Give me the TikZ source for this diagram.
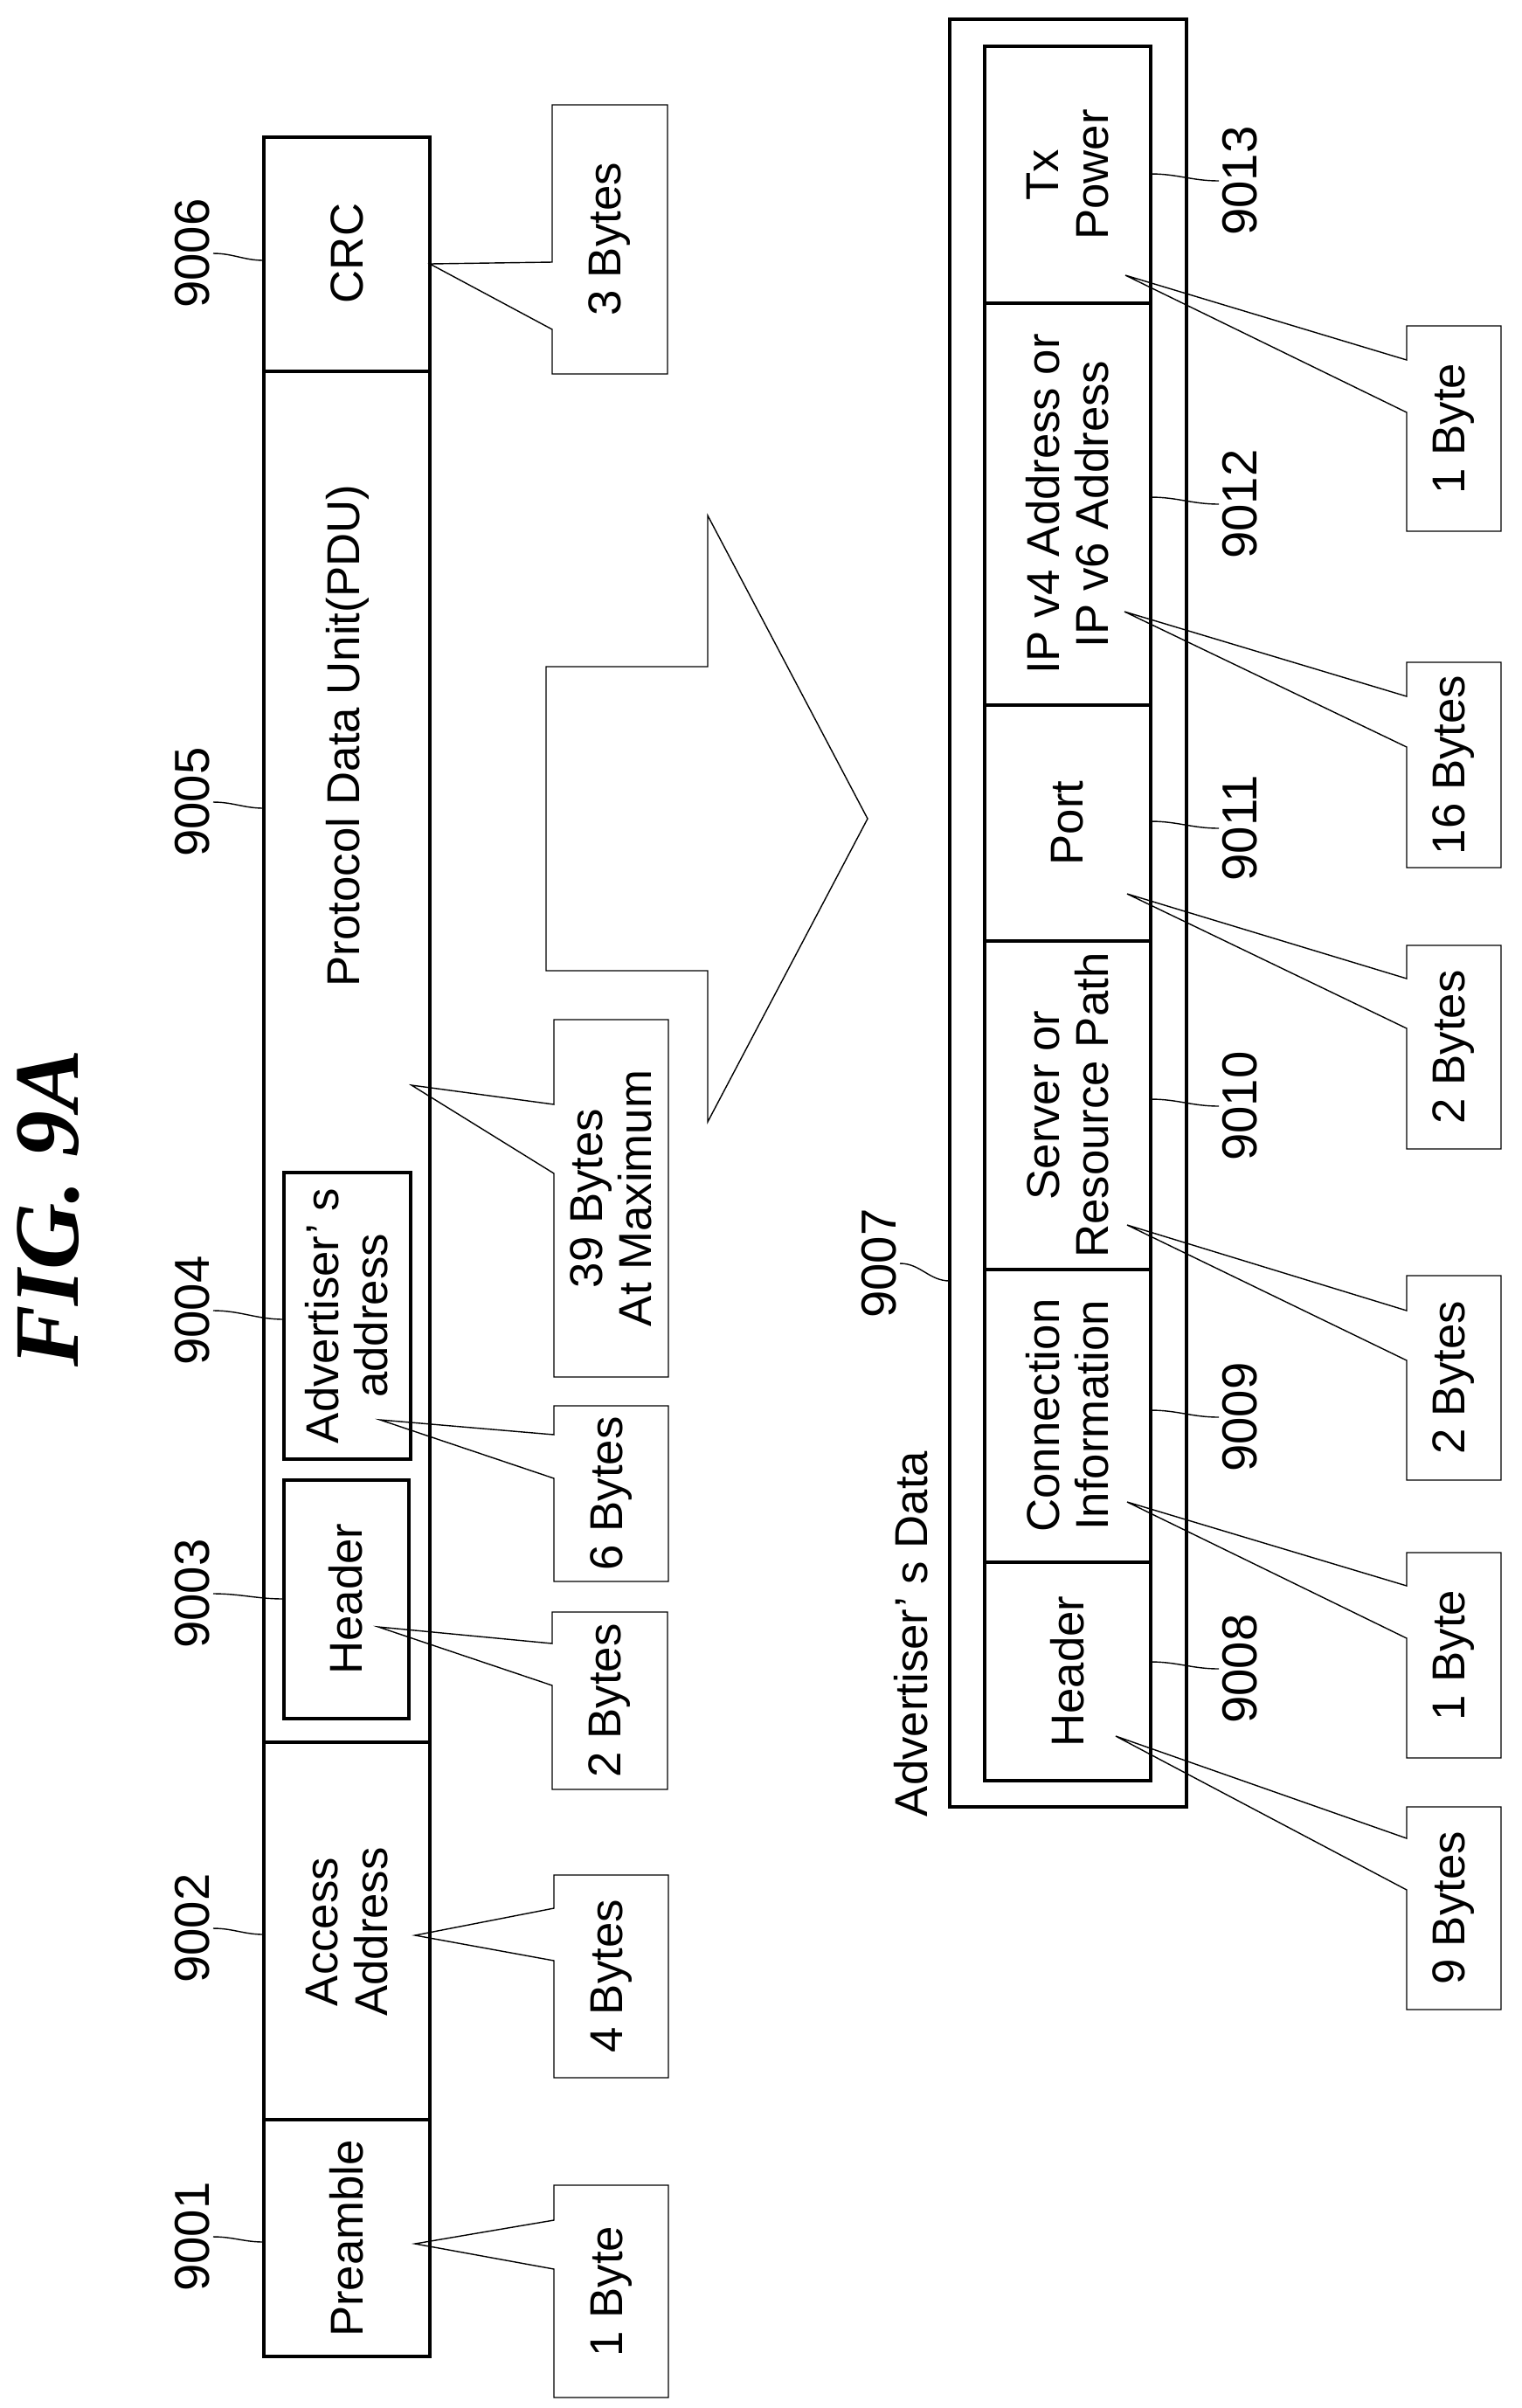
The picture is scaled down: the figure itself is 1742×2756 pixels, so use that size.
\documentclass[tikz,border=0pt]{standalone}
\usepackage{fontspec}
\setmainfont{Liberation Sans}
\newfontfamily\titlefont{Liberation Serif}
\usepackage{tikz}

% callout box: name, tip, left, right, top, gap top, gap bottom, bottom, text
\newcommand{\bytebox}[9]{%
  \draw[thin] (#3,#6) -- (#2) -- (#3,#7) -- (#3,#8) -- (#4,#8) -- (#4,#5) -- (#3,#5) -- cycle;
  \node[txt] (#1) at ({(#3+#4)/2},{(#5+#8)/2}) {#9};
}

\begin{document}
\begin{tikzpicture}[x=0.01cm, y=-0.01cm,
  txt/.style={rotate=90, align=center, inner sep=0pt, font=\fontsize{15}{16}\selectfont},
  ref/.style={rotate=90, inner sep=1pt, font=\fontsize{16}{18}\selectfont},
  frame/.style={line width=0.9pt},
  lead/.style={thin}]
  \useasboundingbox (0,0) rectangle (1742,2756);

  \node[rotate=90, font=\titlefont\bfseries\itshape\fontsize{30}{32}\selectfont] (title) at (55,1383) {FIG. 9A};

  % upper packet
  \draw[frame] (302,157) rectangle (492,2697);
  \draw[frame] (302,425) -- (492,425);
  \draw[frame] (302,1994) -- (492,1994);
  \draw[frame] (302,2426) -- (492,2426);
  \draw[frame] (325,1694) rectangle (468,1967);
  \draw[frame] (325,1342) rectangle (470,1670);
  \node[txt] (crc) at (397,290) {CRC};
  \node[txt] (pdu) at (398,842) {Protocol Data Unit(PDU)};
  \node[txt] (advaddr) at (397,1506) {Advertiser’ s\\address};
  \node[txt] (hdr) at (396,1830) {Header};
  \node[txt] (access) at (397,2211) {Access\\Address};
  \node[txt] (pre) at (397,2562) {Preamble};

  \node[ref, anchor=south] (n9006) at (244,290) {9006};
  \node[ref, anchor=south] (n9005) at (244,918) {9005};
  \node[ref, anchor=south] (n9004) at (244,1500) {9004};
  \node[ref, anchor=south] (n9003) at (244,1824) {9003};
  \node[ref, anchor=south] (n9002) at (244,2207) {9002};
  \node[ref, anchor=south] (n9001) at (244,2560) {9001};
  \draw[lead] (n9006.south) to[out=0,in=180] (302,298);
  \draw[lead] (n9005.south) to[out=0,in=180] (302,925);
  \draw[lead] (n9004.south) to[out=0,in=180] (325,1510);
  \draw[lead] (n9003.south) to[out=0,in=180] (325,1830);
  \draw[lead] (n9002.south) to[out=0,in=180] (302,2214);
  \draw[lead] (n9001.south) to[out=0,in=180] (302,2566);

  \coordinate (t1) at (492,302);
  \coordinate (t2) at (471,1242);
  \coordinate (t3) at (435,1625);
  \coordinate (t4) at (433,1862);
  \coordinate (t5) at (475,2215);
  \coordinate (t6) at (475,2568);
  \bytebox{b1}{t1}{632}{764}{120}{300}{377}{428}{3 Bytes}
  \bytebox{b2}{t2}{634}{765}{1167}{1264}{1343}{1576}{39 Bytes\\At Maximum}
  \bytebox{b3}{t3}{634}{765}{1609}{1642}{1692}{1810}{6 Bytes}
  \bytebox{b4}{t4}{632}{764}{1845}{1881}{1929}{2048}{2 Bytes}
  \bytebox{b5}{t5}{634}{765}{2146}{2184}{2244}{2378}{4 Bytes}
  \bytebox{b6}{t6}{634}{765}{2501}{2541}{2597}{2744}{1 Byte}

  % transition arrow
  \draw[thin] (625,763) -- (810,763) -- (810,590) -- (993,937) -- (810,1284)
    -- (810,1111) -- (625,1111) -- cycle;

  % lower packet
  \draw[frame] (1087,22) rectangle (1358,2068);
  \draw[frame] (1127,53) rectangle (1317,2038);
  \foreach \y in {347,807,1077,1453,1788}
    \draw[frame] (1127,\y) -- (1317,\y);
  \node[txt] (txp) at (1222,200) {Tx\\Power};
  \node[txt] (ipaddr) at (1222,577) {IP v4 Address or\\IP v6 Address};
  \node[txt] (port) at (1222,942) {Port};
  \node[txt] (srv) at (1222,1265) {Server or\\Resource Path};
  \node[txt] (conn) at (1222,1620) {Connection\\Information};
  \node[txt] (hdr2) at (1222,1913) {Header};
  \node[txt] (advdata) at (1043,1870) {Advertiser’ s Data};

  \node[ref, anchor=south] (n9007) at (1030,1446) {9007};
  \draw[lead] (n9007.south) to[out=0,in=180] (1087,1466);
  \foreach \n/\y in {9013/207,9012/577,9011/948,9010/1266,9009/1622,9008/1910} {
    \node[ref, anchor=north] (n\n) at (1395,\y) {\n};
    \draw[lead] (1317,\y-8) to[out=0,in=180] (n\n.north);
  }

  \coordinate (s1) at (1288,315);
  \coordinate (s2) at (1287,700);
  \coordinate (s3) at (1290,1023);
  \coordinate (s4) at (1290,1402);
  \coordinate (s5) at (1290,1719);
  \coordinate (s6) at (1277,1987);
  \bytebox{c1}{s1}{1610}{1718}{373}{412}{472}{608}{1 Byte}
  \bytebox{c2}{s2}{1610}{1718}{758}{797}{855}{993}{16 Bytes}
  \bytebox{c3}{s3}{1610}{1718}{1082}{1120}{1177}{1315}{2 Bytes}
  \bytebox{c4}{s4}{1610}{1718}{1460}{1500}{1557}{1694}{2 Bytes}
  \bytebox{c5}{s5}{1610}{1718}{1777}{1815}{1875}{2012}{1 Byte}
  \bytebox{c6}{s6}{1610}{1718}{2068}{2104}{2163}{2300}{9 Bytes}
\end{tikzpicture}
\end{document}
